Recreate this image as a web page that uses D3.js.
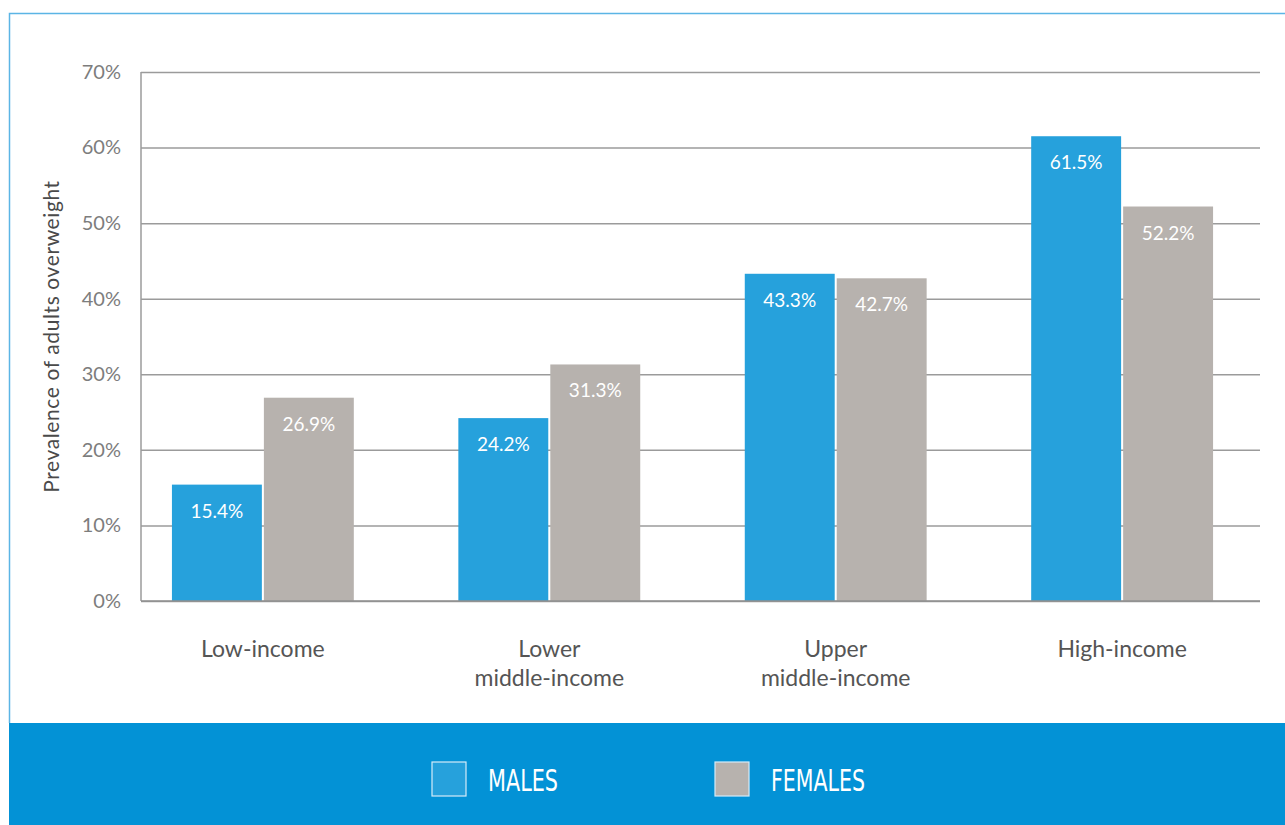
<!DOCTYPE html>
<html>
<head>
<meta charset="utf-8">
<script src="https://cdn.jsdelivr.net/npm/d3@7"></script>
<style>
    html, body { margin: 0; padding: 0; background: #fff; }
    svg { display: block; }
</style>
</head>
<body>
<div id="chart"></div>
<script>
    // data
    const incomeGroups = ['Low-income', 'Lower\nmiddle-income', 'Upper\nmiddle-income', 'High-income'];
    const sexes = ['Males', 'Females'];
    const malesValues = [15.4, 24.2, 43.3, 61.5];
    const femalesValues = [26.9, 31.3, 42.7, 52.2];
    const yTicks = [0, 10, 20, 30, 40, 50, 60, 70];
    const yAxisLabel = 'Prevalence of adults overweight';

    const width = 1285,
        height = 825;
    const margin = {top: 72, right: 25, bottom: 224, left: 141};
    const fontFamily = 'Lato, "Noto Sans", sans-serif';
    const colorScale = d3.scaleOrdinal()
        .domain(sexes)
        .range(['#26a1dc', '#b7b2ae']);

    const data = incomeGroups.map((key, i) => ({
        key: key,
        values: [
            {type: 'Males', value: malesValues[i]},
            {type: 'Females', value: femalesValues[i]}
        ]
    }));

    const svg = d3.select('#chart').append('svg')
        .attr('width', width)
        .attr('height', height);

    // frame
    svg.append('path')
        .attr('d', `M${width},13.5 H9.5 V723`)
        .attr('fill', 'none')
        .attr('stroke', '#5bb5e5')
        .attr('stroke-width', 1.5);

    const groupsScale = d3.scaleBand()
        .domain(incomeGroups)
        .range([margin.left, 1244])
        .paddingInner(0.365)
        .paddingOuter(0.108);

    const innerScale = d3.scaleBand()
        .domain(sexes)
        .range([0, groupsScale.bandwidth()])
        .paddingInner(0.022);

    const yScale = d3.scaleLinear()
        .domain([0, 70])
        .range([height - margin.bottom, margin.top]);

    const gridRight = 1260;

    const yAxis = d3.axisLeft(yScale)
        .tickValues(yTicks)
        .tickFormat(d => `${d}%`)
        .tickSize(-(gridRight - margin.left))
        .tickPadding(20);

    const gYAxis = svg.append('g')
        .attr('class', 'y axis')
        .attr('transform', `translate(${margin.left},0)`)
        .call(yAxis);

    gYAxis.select('.domain')
        .attr('d', `M0,${yScale(70)}V${yScale(0)}`)
        .attr('stroke', '#9b9b9b')
        .attr('stroke-width', 1.5);
    gYAxis.selectAll('.tick line')
        .attr('stroke', '#9b9b9b')
        .attr('stroke-width', 1.5);
    gYAxis.selectAll('.tick text')
        .attr('fill', '#7d7d7d')
        .style('font-family', fontFamily)
        .style('font-size', '20px');

    svg.append('text')
        .attr('transform', `translate(59,${(yScale(0) + yScale(70)) / 2}) rotate(-90)`)
        .attr('text-anchor', 'middle')
        .attr('fill', '#4a4a4a')
        .style('font-family', fontFamily)
        .style('font-size', '21px')
        .style('letter-spacing', '0.6px')
        .text(yAxisLabel);

    const groups = svg.append('g')
        .selectAll('g')
        .data(data)
        .enter().append('g')
        .attr('transform', d => `translate(${groupsScale(d.key)},0)`);

    groups.selectAll('rect')
        .data(d => d.values)
        .enter().append('rect')
        .attr('x', d => innerScale(d.type))
        .attr('y', d => yScale(d.value))
        .attr('width', innerScale.bandwidth())
        .attr('height', d => yScale(0) - yScale(d.value))
        .attr('fill', d => colorScale(d.type));

    groups.selectAll('text.value')
        .data(d => d.values)
        .enter().append('text')
        .attr('class', 'value')
        .attr('x', d => innerScale(d.type) + innerScale.bandwidth() / 2)
        .attr('y', d => yScale(d.value) + 33)
        .attr('text-anchor', 'middle')
        .attr('fill', '#fff')
        .style('font-family', fontFamily)
        .style('font-size', '19px')
        .text(d => `${d.value}%`);

    // baseline sits on top of the bars
    svg.append('line')
        .attr('x1', margin.left)
        .attr('x2', gridRight)
        .attr('y1', yScale(0))
        .attr('y2', yScale(0))
        .attr('stroke', '#8f8f8f')
        .attr('stroke-width', 1.5);

    // category labels
    const catLabels = svg.append('g')
        .selectAll('text')
        .data(incomeGroups)
        .enter().append('text')
        .attr('x', d => groupsScale(d) + groupsScale.bandwidth() / 2)
        .attr('y', 657)
        .attr('text-anchor', 'middle')
        .attr('fill', '#555')
        .style('font-family', fontFamily)
        .style('font-size', '23px');

    catLabels.selectAll('tspan')
        .data(d => d.split('\n'))
        .enter().append('tspan')
        .attr('x', function () { return d3.select(this.parentNode).attr('x'); })
        .attr('dy', (d, i) => i === 0 ? 0 : 29)
        .text(d => d);

    // legend band
    svg.append('rect')
        .attr('x', 9)
        .attr('y', 723)
        .attr('width', width - 9)
        .attr('height', height - 723)
        .attr('fill', '#0392d6');

    const legendX = d3.scaleOrdinal()
        .domain(sexes)
        .range([432, 715]);

    const legend = svg.append('g')
        .selectAll('g')
        .data(sexes)
        .enter().append('g')
        .attr('transform', d => `translate(${legendX(d)},762)`);

    legend.append('rect')
        .attr('width', 34)
        .attr('height', 34)
        .attr('fill', d => colorScale(d))
        .attr('stroke', '#d5ecf8')
        .attr('stroke-width', 1.2);

    legend.append('text')
        .attr('x', 56)
        .attr('y', 29)
        .attr('fill', '#fff')
        .attr('textLength', d => d === 'Males' ? 70 : 94)
        .attr('lengthAdjust', 'spacingAndGlyphs')
        .style('font-family', '"Liberation Sans Narrow", "DejaVu Sans Condensed", sans-serif')
        .style('font-size', '31px')
        .text(d => d.toUpperCase());
</script>
</body>
</html>
